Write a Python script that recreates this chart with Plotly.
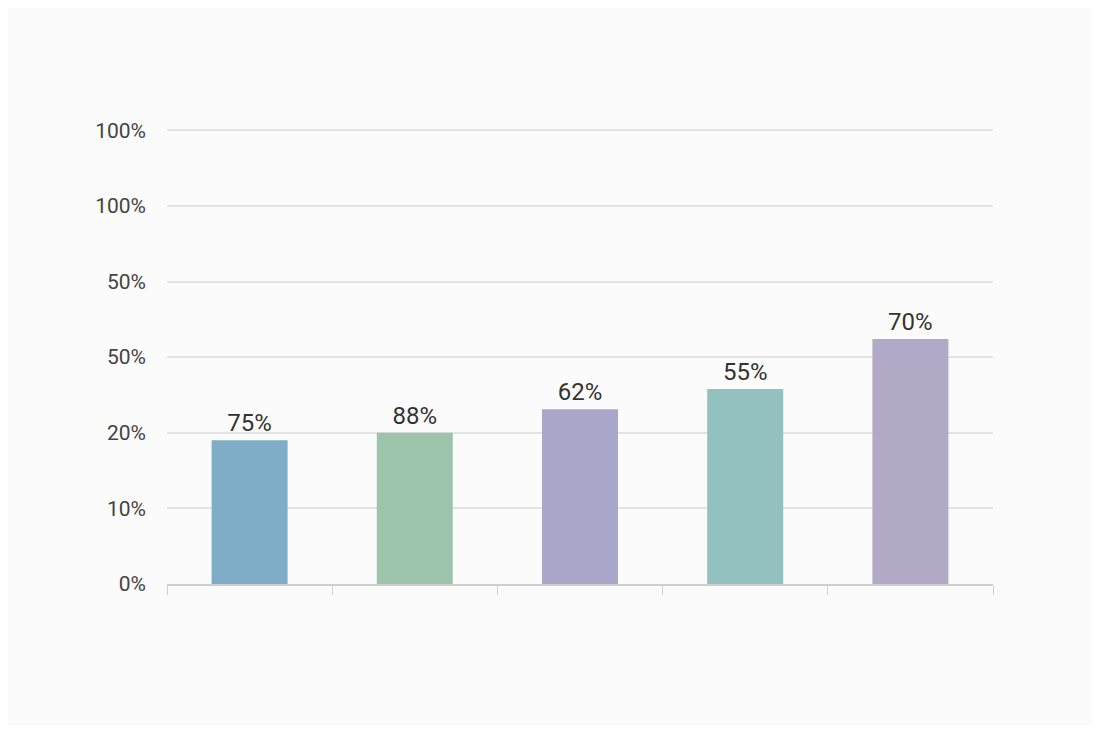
import plotly.graph_objects as go

# five unnamed groups, heights in axis-grid units (one unit per gridline)
categories = ["A", "B", "C", "D", "E"]
heights = [1.9, 2.0, 2.31, 2.58, 3.24]
bar_labels = ["75%", "88%", "62%", "55%", "70%"]
bar_colors = ["#7FACC6", "#9CC4AB", "#A9A6CA", "#93C1BF", "#B0AAC6"]

tick_vals = [0, 1, 2, 3, 4, 5, 6]
tick_text = ["0%", "10%", "20%", "50%", "50%", "100%", "100%"]

fig = go.Figure()

fig.add_trace(go.Bar(
    x=categories,
    y=heights,
    text=bar_labels,
    textposition="outside",
    textfont=dict(family="Roboto", size=24, color="#333333"),
    marker=dict(color=bar_colors, line=dict(width=0)),
    cliponaxis=False,
    hoverinfo="skip",
))

# page body adds 8px around the plot, so size is trimmed to fit the window
fig.update_layout(
    width=1084,
    height=717,
    margin=dict(l=159, r=99, t=120, b=141),
    paper_bgcolor="#FBFBFB",
    plot_bgcolor="#FBFBFB",
    bargap=0.54,
    showlegend=False,
    font=dict(family="Roboto", color="#444444"),
    xaxis=dict(
        showticklabels=False,
        tickson="boundaries",
        ticks="outside",
        ticklen=9,
        tickcolor="#CFCFCF",
        showline=True,
        linecolor="#CFCFCF",
        linewidth=1.5,
        showgrid=False,
    ),
    yaxis=dict(
        range=[0, 6.03],
        tickvals=tick_vals,
        ticktext=tick_text,
        tickfont=dict(family="Roboto", size=21, color="#444444"),
        ticklabelstandoff=20,
        showgrid=True,
        gridcolor="#E3E3E3",
        gridwidth=1.5,
        zeroline=False,
        showline=False,
    ),
)

fig.write_html("out.html")
